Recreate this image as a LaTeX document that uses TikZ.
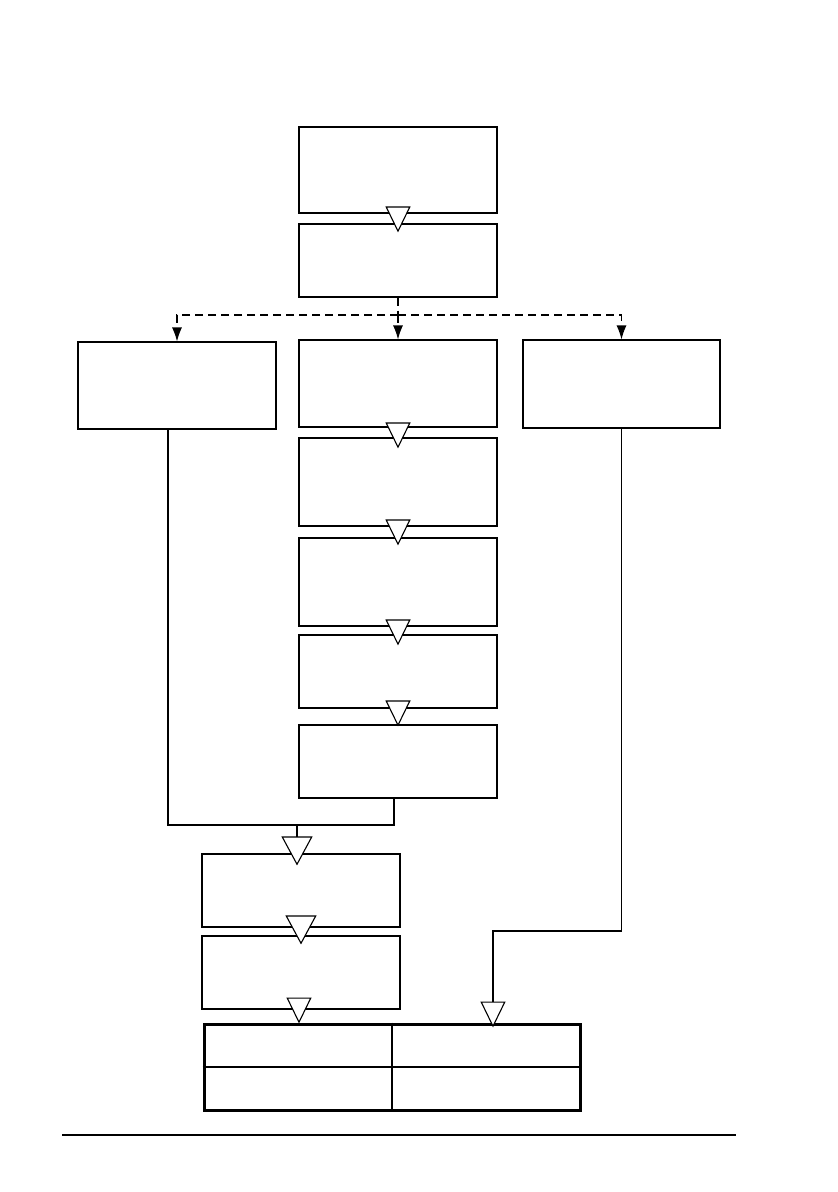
\documentclass[tikz,border=0pt]{standalone}
\usetikzlibrary{arrows.meta}
\tikzset{
  box/.style={draw, line width=1.1pt, minimum width=198pt, inner sep=0pt},
  tri/.style={line width=1.1pt, -{Triangle[length=26pt,width=25pt,fill=white]}},
  bigtri/.style={line width=1.1pt, -{Triangle[length=29pt,width=31pt,fill=white]}},
  branch/.style={line width=1.1pt, dash pattern=on 8pt off 5pt, -{Latex[length=14pt,width=10pt]}}
}
\begin{document}
\begin{tikzpicture}[x=1pt,y=-1pt]
  \useasboundingbox (0,0) rectangle (838,1192);
  % top pair
  \node[box, minimum height=86pt] (A) at (398,170) {};
  \node[box, minimum height=73pt] (B) at (398,260.5) {};
  % three branches
  \node[box, minimum height=87pt] (L) at (177,385.5) {};
  \node[box, minimum width=197pt, minimum height=88pt] (R) at (621.5,384) {};
  \foreach \n/\y/\h in {C1/383.5/87, C2/482/88, C3/582/88, C4/671.5/73, C5/761.5/73}
    \node[box, minimum height=\h pt] (\n) at (398,\y) {};
  \foreach \a/\b/\s in {A/B/-9, C1/C2/-11, C2/C3/-8, C3/C4/-11, C4/C5/-2}
    \draw[tri, shorten >=\s pt] (\a.south) -- (\b.north);
  \coordinate (split) at (398,315);
  \draw[line width=1.1pt, dash pattern=on 8pt off 5pt] (B.south) -- (split);
  \draw[branch] (split) -| (L.north);
  \draw[branch] (split) -- (C1.north);
  \draw[branch] (split) -| (R.north);
  % lower column
  \node[box, minimum height=73pt] (D1) at (301,890.5) {};
  \node[box, minimum height=73pt] (D2) at (301,972.5) {};
  \node[draw, line width=3pt, minimum width=376pt, minimum height=86pt, inner sep=0pt] (tbl) at (392,1067) {};
  \draw[line width=1.1pt] (tbl.north) -- (tbl.south);
  \draw[line width=1.1pt] (tbl.west) -- (tbl.east);
  \coordinate (join) at (297,825);
  \draw[line width=1.1pt] ([xshift=-9pt]L.south) |- (join) -| ([xshift=-4pt]C5.south);
  \draw[bigtri, shorten >=-12pt] (join) -- (join |- D1.north);
  \draw[bigtri, shorten >=-9pt] (D1.south) -- (D2.north);
  \draw[tri, shorten >=-1pt] ([xshift=-2pt]D2.south) -- ([xshift=-2pt]D2.south |- tbl.north);
  \coordinate (bend) at (493,931);
  \draw[tri, shorten >=-5pt] (R.south) |- (bend) -- (bend |- tbl.north);
  % page rule
  \coordinate (ruleL) at (62,1135);
  \coordinate (ruleR) at (736,1135);
  \draw[line width=1.1pt] (ruleL) -- (ruleR);
\end{tikzpicture}
\end{document}
